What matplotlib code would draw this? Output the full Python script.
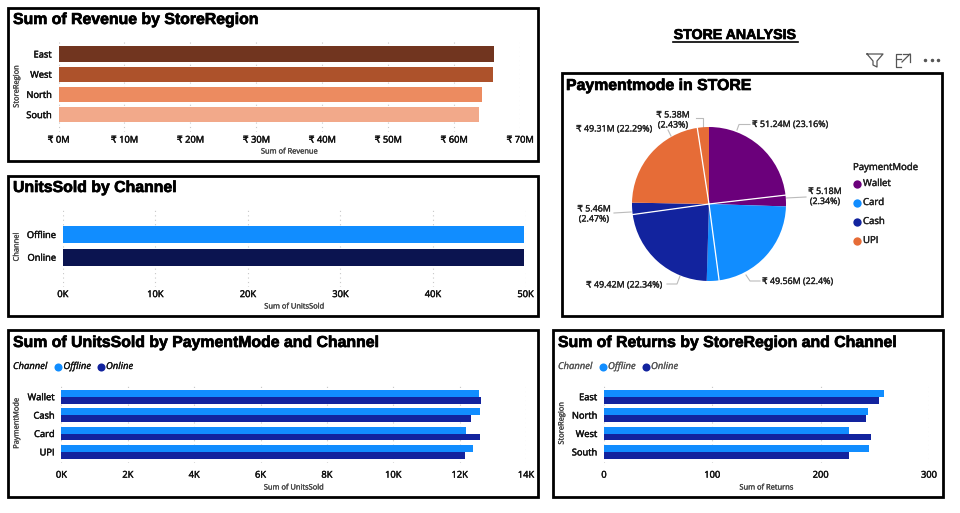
import numpy as np
import matplotlib
matplotlib.use("Agg")
import matplotlib.pyplot as plt
import matplotlib.patheffects as pe
from matplotlib.patches import Rectangle

W, H = 960, 513
FONT = ["Open Sans", "DejaVu Sans"]
TITLE_FONT = ["Liberation Sans"]

regions_rev = ["East", "West", "North", "South"]
revenue = [66.1, 65.9, 64.2, 63.8]
revenue_colors = ["#71351F", "#AD522B", "#EC8B60", "#F2A98A"]

channels = ["Offline", "Online"]
units_channel = [49.8, 49.8]

pay_modes = ["Wallet", "Cash", "Card", "UPI"]
units_off = [12.58, 12.60, 12.20, 12.39]
units_on = [12.65, 12.34, 12.60, 12.17]

regions_ret = ["East", "North", "West", "South"]
returns_off = [258, 244, 226, 245]
returns_on = [254, 242, 246, 226]

pie_values = [51.24, 5.18, 49.56, 5.69, 49.42, 5.46, 49.31, 5.38]
pie_modes = ["Wallet", "Wallet", "Card", "Card", "Cash", "Cash", "UPI", "UPI"]
pie_labels = ["₹ 51.24M (23.16%)", "₹ 5.18M\n(2.34%)", "₹ 49.56M (22.4%)", "",
              "₹ 49.42M (22.34%)", "₹ 5.46M\n(2.47%)", "₹ 49.31M (22.29%)", "₹ 5.38M\n(2.43%)"]
legend_modes = ["Wallet", "Card", "Cash", "UPI"]
mode_colors = {"Wallet": "#6B007B", "Card": "#118DFF", "Cash": "#12239E", "UPI": "#E66C37"}

LIGHT, DARK, NAVY = "#118DFF", "#12239E", "#0B1450"

fig = plt.figure(figsize=(W / 100, H / 100), dpi=100, facecolor="white")
bg = fig.add_axes([0, 0, 1, 1])
bg.set_xlim(0, W); bg.set_ylim(H, 0); bg.axis("off")


def heavy(t, color, w=0.3):
    t.set_path_effects([pe.withStroke(linewidth=w, foreground=color)])
    return t


def panel(x0, y0, x1, y1, title, tx, ty, size=11.4):
    bg.add_patch(Rectangle((x0, y0), x1 - x0, y1 - y0, fill=False, ec="black", lw=2.0))
    heavy(bg.text(tx, ty + 0.5, title, family=TITLE_FONT, weight="bold", fontsize=size, va="center", ha="left", color="black"),
          "black", 0.5)


def make_ax(x0, y0, x1, y1):
    return fig.add_axes([x0 / W, 1 - y1 / H, (x1 - x0) / W, (y1 - y0) / H], facecolor="none")


def style(ax, xticks, xlabels, xlabel, ylabel, xmax, xlabel_y, ylabel_x, tick_pad=5):
    ax.set_xlim(0, xmax)
    ax.set_xticks(xticks, xlabels)
    ax.grid(axis="x", color="#C8C8C8", lw=0.8, ls=(0, (1, 3)))
    ax.set_axisbelow(True)
    for s in ax.spines.values():
        s.set_visible(False)
    ax.tick_params(length=0, labelsize=6.7, labelcolor="#111111")
    ax.tick_params(axis="x", pad=tick_pad)
    ax.tick_params(axis="y", pad=5)
    for t in ax.get_xticklabels() + ax.get_yticklabels():
        t.set_family(FONT)
        heavy(t, "#111111", 0.3)
    box = ax.get_position()
    cx = (box.x0 + box.x1) / 2 * W
    heavy(bg.text(cx, xlabel_y, xlabel, family=FONT, fontsize=5.4, color="#444444", ha="center", va="center"), "#444444", 0.2)
    heavy(bg.text(ylabel_x, (box.y0 + box.y1) / 2 * -H + H, ylabel, family=FONT, fontsize=5.4,
                  color="#444444", rotation=90, ha="center", va="center"), "#444444", 0.2)


def ylims(first, step, top, bottom):
    return (bottom - first) / step, (top - first) / step


# Panel 1
panel(7.5, 7.5, 538, 161, "Sum of Revenue by StoreRegion", 13, 19)
ax = make_ax(58.5, 41.7, 520, 131.7)
ax.barh(range(4), revenue, height=0.76, color=revenue_colors)
ax.set_yticks(range(4), regions_rev)
ax.set_ylim(*ylims(54, 20.2, 41.7, 131.7))
style(ax, list(range(0, 71, 10)), [f"₹ {v}M" for v in range(0, 71, 10)], "Sum of Revenue", "StoreRegion", 70, 152, 17, 2.8)

# Panel 2
panel(7.5, 175.5, 538, 315.5, "UnitsSold by Channel", 13, 187)
ax = make_ax(62.8, 207, 525.5, 287)
ax.barh(range(2), units_channel, height=0.75, color=[LIGHT, NAVY])
ax.set_yticks(range(2), channels)
ax.set_ylim(*ylims(234.5, 22.7, 207, 287))
style(ax, list(range(0, 51, 10)), [f"{v}K" for v in range(0, 51, 10)], "Sum of UnitsSold", "Channel", 50, 307, 17, 2.2)

# Panel 3
panel(7.5, 330, 538, 497, "Sum of UnitsSold by PaymentMode and Channel", 13, 342)
ax = make_ax(61.4, 384, 526, 463)
y = np.arange(4)
ax.barh(y - 0.185, units_off, height=0.37, color=LIGHT)
ax.barh(y + 0.185, units_on, height=0.37, color=DARK)
ax.set_yticks(y, pay_modes)
ax.set_ylim(*ylims(396.7, 18.4, 384, 463))
style(ax, list(range(0, 15, 2)), [f"{v}K" for v in range(0, 15, 2)], "Sum of UnitsSold", "PaymentMode", 14, 488, 17, 5.5)

# Panel 4
panel(553, 330, 943, 497, "Sum of Returns by StoreRegion and Channel", 558, 342)
ax = make_ax(604, 384, 929, 463)
ax.barh(y - 0.185, returns_off, height=0.37, color=LIGHT)
ax.barh(y + 0.185, returns_on, height=0.37, color=DARK)
ax.set_yticks(y, regions_ret)
ax.set_ylim(*ylims(396.7, 18.4, 384, 463))
style(ax, [0, 100, 200, 300], ["0", "100", "200", "300"], "Sum of Returns", "StoreRegion", 300, 488, 562, 5.5)


def channel_legend(x, col, dots):
    heavy(bg.text(x, 366.5, "Channel", family=FONT, style="italic", fontsize=6.8, color=col, va="center"), col, 0.2)
    for (dx, tx, name, c) in dots:
        bg.plot([dx], [366.5], "o", ms=5.8, color=c, mec="none")
        heavy(bg.text(tx, 366.5, name, family=FONT, style="italic", fontsize=6.8, color=col, va="center"), col, 0.2)


channel_legend(13, "#111111", [(58, 63.4, "Offline", LIGHT), (100.7, 106, "Online", DARK)])
channel_legend(558, "#555555", [(602.7, 608, "Offline", LIGHT), (645.7, 651, "Online", DARK)])

# Title and header icons
heavy(bg.text(735, 35, "STORE ANALYSIS", family=TITLE_FONT, weight="bold", fontsize=10.2, ha="center", va="center", color="black"), "black", 0.5)
bg.plot([673, 798], [41.5, 41.5], color="black", lw=1.2)
ic = "#555555"
bg.plot([867, 883, 877, 877, 873, 873, 867], [54, 54, 61, 67, 65, 61, 54], color=ic, lw=0.9)
bg.plot([896, 896, 901], [59, 67, 67], color=ic, lw=0.9)
bg.plot([901, 896, 896, 901], [59, 59, 54, 54], color=ic, lw=0.9)
bg.plot([903, 910, 910], [54, 54, 62], color=ic, lw=0.9)
bg.plot([902, 910], [62, 54], color=ic, lw=0.9)
bg.plot([925, 931.5, 938], [60, 60, 60], ls="none", marker="o", ms=1.5, color=ic)

# Pie panel
panel(561.5, 73, 942, 316, "Paymentmode in STORE", 566, 85)
R = 77
pie_ax = make_ax(709 - R, 204 - R, 709 + R, 204 + R)
colors = [mode_colors[m] for m in pie_modes]
pie_ax.pie(pie_values, colors=colors, startangle=90, counterclock=False, radius=1, wedgeprops={"linewidth": 0})
pie_ax.set_xlim(-1, 1); pie_ax.set_ylim(-1, 1)
total = sum(pie_values)
cum = np.cumsum(pie_values)
for i in range(0, 8, 2):
    a = np.pi / 2 - 2 * np.pi * cum[i] / total
    pie_ax.plot([0, np.cos(a)], [0, np.sin(a)], color="white", lw=0.9)

label_pos = [(752, 124.5), (808, 196.5), (762, 281.5), None,
             (586, 285), (577, 214), (576, 129), (656, 120)]
leaders = [([737, 739, 750], [130, 124.5, 124.5]), ([786, 806], [198, 197]), ([746, 750, 760], [275, 281, 281]), None,
           ([680, 677, 667], [276, 284, 284]), ([631, 614], [212, 213]), ([671, 668], [136, 130]),
           ([703, 703, 696], [128, 118, 118])]
for txt, pos, ld in zip(pie_labels, label_pos, leaders):
    if pos is None:
        continue
    bg.plot(ld[0], ld[1], color="#BBBBBB", lw=0.8)
    two = "\n" in txt
    heavy(bg.text(pos[0] + (17 if two else 0), pos[1], txt, family=FONT, fontsize=6.4, color="#222222",
                  ha="center" if two else "left", va="center", linespacing=1.15), "#222222", 0.25)

heavy(bg.text(853, 167.5, "PaymentMode", family=FONT, fontsize=6.9, color="#222222", va="center"), "#222222", 0.3)
for name, yy in zip(legend_modes, [183.5, 202.5, 221.5, 240.5]):
    bg.plot([857], [yy], "o", ms=6, color=mode_colors[name], mec="none")
    heavy(bg.text(863, yy, name, family=FONT, fontsize=6.9, color="#222222", va="center"), "#222222", 0.3)

bg.set_xlim(0, W); bg.set_ylim(H, 0)
fig.savefig("out.png", dpi=100, facecolor="white")
